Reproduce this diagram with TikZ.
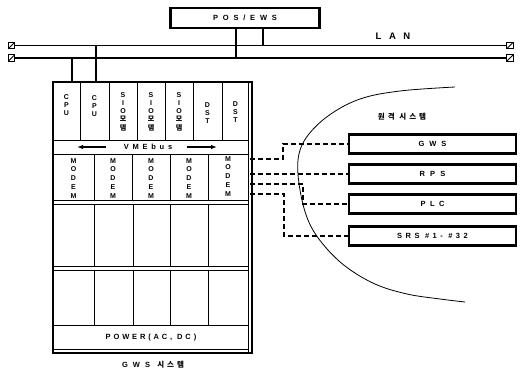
\documentclass[tikz,border=0pt]{standalone}
\usepackage{fontspec}
\setmainfont{Liberation Sans}
\newfontfamily\kr{Noto Sans CJK KR}
\usetikzlibrary{arrows.meta}
\newcommand\trk[3]{{\bfseries\fontsize{#1}{#1}\selectfont\addfontfeature{LetterSpace=#2}#3}}
\newcommand\krtrk[3]{{\kr\bfseries\fontsize{#1}{#1}\selectfont\addfontfeature{LetterSpace=#2}#3}}
\begin{document}
\begin{tikzpicture}[x=1pt,y=-1pt,
  lan/.style={line width=1.8pt},
  rackline/.style={line width=0.7pt},
  plain/.style={inner sep=0pt},
  remote/.style={draw, line width=2.2pt, minimum width=167pt, minimum height=19pt, inner sep=0pt},
  dashline/.style={line width=1.8pt, dash pattern=on 5pt off 3pt},
  vtext/.style={align=center, inner sep=0pt, anchor=north, font=\bfseries\fontsize{7}{8.3}\selectfont},
  mtext/.style={align=center, inner sep=0pt, anchor=north, font=\bfseries\fontsize{7}{8.8}\selectfont},
  term/.style={draw, line width=0.9pt, minimum size=6.5pt, inner sep=0pt, fill=white,
    path picture={\draw[line width=0.9pt] (path picture bounding box.south west) -- (path picture bounding box.north east);}},
  bus/.style={line width=1.8pt, -{Latex[length=6pt,width=4.5pt]}}
]
\useasboundingbox (0,0) rectangle (528,374);

% POS/EWS and LAN
\node[draw, line width=2.2pt, minimum width=149pt, minimum height=20pt, inner sep=0pt] (pos) at (245,18) {\trk{7.5}{64}{POS/EWS}};
\node[term] (tl1) at (11.5,45.5) {};
\node[term] (tl2) at (11.5,58) {};
\node[term] (tr1) at (510,45.5) {};
\node[term] (tr2) at (510,58) {};
\draw[lan] (tl1.east) -- (tr1.west);
\draw[lan] (tl2.east) -- (tr2.west);
\node[plain] (lan) at (393,36) {\trk{9.5}{80}{LAN}};
\coordinate (posa) at (236,58);
\coordinate (posb) at (263,45.5);
\draw[line width=1.4pt] (pos.south -| posa) -- (posa);
\draw[line width=2pt] (pos.south -| posb) -- (posb);

% GWS rack
\draw[line width=2pt] (53,82) rectangle (252,353);
\coordinate (gwsa) at (72,82);
\coordinate (gwsb) at (96,82);
\draw[line width=2pt] (gwsa |- tl2) -- (gwsa);
\draw[line width=2pt] (gwsb |- tl1) -- (gwsb);
\draw[rackline] (248,82) -- (248,353);
\foreach \x in {80,109,137,165,193,222} \draw[rackline] (\x,82) -- (\x,140);
\draw[rackline] (53,140) -- (248,140);
\draw[rackline] (53,154) -- (248,154);
\foreach \x in {94,132,170,208} \draw[rackline] (\x,154) -- (\x,200);
\draw[rackline] (53,200) -- (248,200);
\draw[rackline] (53,204) -- (248,204);
\foreach \x in {94,133,170,208} \draw[rackline] (\x,204) -- (\x,266);
\draw[rackline] (53,266) -- (248,266);
\draw[rackline] (53,270) -- (248,270);
\foreach \x in {94,133,170,208} \draw[rackline] (\x,270) -- (\x,325);
\draw[rackline] (53,325) -- (248,325);
\draw[rackline] (53,349) -- (248,349);

% card labels
\node[vtext] (cpu1) at (66.5,94) {C\\P\\U};
\node[vtext] (cpu2) at (94.5,95) {C\\P\\U};
\node[vtext] (sio1) at (123,92) {S\\I\\O\\{\kr\bfseries 모}\\{\kr\bfseries 뎀}};
\node[vtext] (sio2) at (151,92) {S\\I\\O\\{\kr\bfseries 모}\\{\kr\bfseries 뎀}};
\node[vtext] (sio3) at (179,92) {S\\I\\O\\{\kr\bfseries 모}\\{\kr\bfseries 뎀}};
\node[vtext] (dst1) at (207.5,102) {D\\S\\T};
\node[vtext] (dst2) at (235.5,101) {D\\S\\T};
\node[plain] (vme) at (148,147) {\trk{7.5}{50}{VMEbus}};
\coordinate (vl) at (77,147);
\coordinate (vr) at (217,147);
\draw[bus] (106,147) -- (vl);
\draw[bus] (187,147) -- (vr);
\node[mtext] (md1) at (73.5,158) {M\\O\\D\\E\\M};
\node[mtext] (md2) at (113,158) {M\\O\\D\\E\\M};
\node[mtext] (md3) at (151,158) {M\\O\\D\\E\\M};
\node[mtext] (md4) at (189,158) {M\\O\\D\\E\\M};
\node[mtext] (md5) at (228,156) {M\\O\\D\\E\\M};
\node[plain] (power) at (151,337.5) {\trk{7.5}{38}{POWER(AC, DC)}};
\node[plain] (gwslabel) at (153,365) {\trk{7.5}{68}{GWS }\krtrk{7.5}{40}{시스템}};

% remote systems
\node[plain] (remlabel) at (402,117) {\krtrk{7.5}{40}{원격 시스템}};
\node[remote] (gws) at (432.5,144) {\trk{7.5}{64}{GWS}};
\node[remote] (rps) at (432.5,174) {\trk{7.5}{70}{RPS}};
\node[remote] (plc) at (432.5,204) {\trk{7.5}{60}{PLC}};
\node[remote] (srs) at (432.5,236) {\trk{7.5}{46}{SRS \#1- \#32}};

\coordinate (p1) at (250,159);
\coordinate (p2) at (250,174);
\coordinate (p3) at (250,184);
\coordinate (p4) at (250,194);
\draw[dashline] (p1) -- (283,159) |- (gws.west);
\draw[dashline] (p2) -- (rps.west |- p2);
\draw[dashline] (p3) -- (303,184) |- (plc.west);
\draw[dashline] (p4) -- (284,194) |- (srs.west);

% boundary of remote systems
\draw[line width=0.8pt] plot[smooth, tension=0.6] coordinates {(455,87) (400,91) (360,99) (328,116) (306,138) (298,160) (300,190) (308,220) (322,243) (345,266) (375,284) (407,294) (440,299) (465,302)};
\end{tikzpicture}
\end{document}
